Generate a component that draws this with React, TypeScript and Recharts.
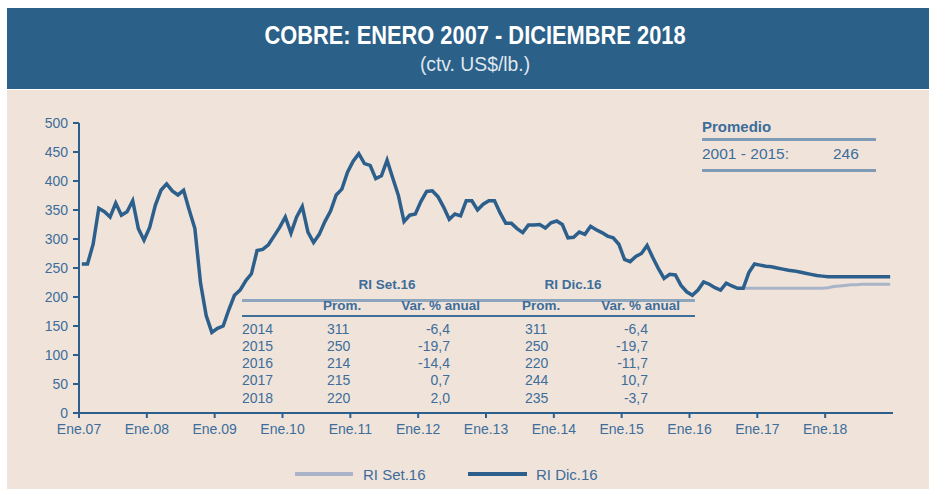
import { LineChart, Line, XAxis, YAxis } from 'recharts';

// precios mensuales ctv. US$/lb, ene.2007 - oct.2016
const historico = [
  257, 257, 291, 353, 347, 338, 362, 341, 347, 366, 318, 298,
  320, 358, 384, 395, 383, 376, 384, 350, 318, 224, 168, 139,
  146, 150, 178, 203, 212, 228, 240, 280, 282, 290, 305, 320,
  338, 310, 338, 356, 312, 294, 308, 330, 348, 376, 386, 415,
  434, 447, 430, 427, 404, 409, 436, 405, 375, 330, 341, 343,
  365, 382, 383, 373, 355, 334, 343, 340, 366, 366, 350, 360,
  366, 366, 345, 327, 327, 318, 311, 324, 324, 325, 319, 328,
  331, 325, 302, 303, 312, 308, 322, 316, 311, 305, 302, 291,
  265, 261, 270, 275, 289, 268, 249, 232, 239, 238, 220, 209,
  203, 212, 226, 222, 216, 212, 224, 219, 215, 215,
];

// nov.2016 - dic.2018
const proyDic16 = [
  242, 257,
  255, 253, 252, 250, 248, 246, 245, 243, 241, 239, 237, 236,
  235, 235, 235, 235, 235, 235, 235, 235, 235, 235, 235, 235,
];
const proySet16 = [
  215, 215,
  215, 215, 215, 215, 215, 215, 215, 215, 215, 215, 215, 215,
  216, 218, 219, 220, 221, 221, 222, 222, 222, 222, 222, 222,
];

const etiquetasX = ['Ene.07', 'Ene.08', 'Ene.09', 'Ene.10', 'Ene.11', 'Ene.12', 'Ene.13', 'Ene.14', 'Ene.15', 'Ene.16', 'Ene.17', 'Ene.18'];
const ticksY = [0, 50, 100, 150, 200, 250, 300, 350, 400, 450, 500];

const anios = ['2014', '2015', '2016', '2017', '2018'];
const promSet = ['311', '250', '214', '215', '220'];
const varSet = ['-6,4', '-19,7', '-14,4', '0,7', '2,0'];
const promDic = ['311', '250', '220', '244', '235'];
const varDic = ['-6,4', '-19,7', '-11,7', '10,7', '-3,7'];

const n = historico.length;
const data = [...historico, ...proyDic16].map((v, i) => ({
  x: i + 0.5,
  dic: v,
  set: i === n - 1 ? historico[i] : i >= n ? proySet16[i - n] : null,
}));

const AZUL = '#2c5f8c';
const TEXTO = '#3d6d9b';
const GRIS = '#a9b4c8';
const fuente = "'Liberation Sans', Arial, sans-serif";

type TxtProps = { x: number; y: number; children: any; align?: 'left' | 'right' | 'center'; bold?: boolean; size?: number; color?: string; sx?: number };

function Txt({ x, y, children, align = 'left', bold = false, size = 14, color = TEXTO, sx = 1 }: TxtProps) {
  const tx = align === 'left' ? '0' : align === 'right' ? '-100%' : '-50%';
  const origin = align === 'left' ? 'left' : align === 'right' ? 'right' : 'center';
  return (
    <div style={{ position: 'absolute', left: x, top: y, transform: `translate(${tx}, -50%)`, whiteSpace: 'nowrap' }}>
      <div style={{ fontFamily: fuente, fontSize: size, fontWeight: bold ? 700 : 400, color, lineHeight: 1, transform: `scaleX(${sx})`, transformOrigin: origin }}>
        {children}
      </div>
    </div>
  );
}

function Raya({ x, y, w, h, color }: { x: number; y: number; w: number; h: number; color: string }) {
  return <div style={{ position: 'absolute', left: x, top: y - h / 2, width: w, height: h, background: color }} />;
}

const filas = [329, 346, 363, 380, 398];

export default function App() {
  return (
    <div style={{ position: 'absolute', left: 0, top: 0, width: 929, height: 489, overflow: 'hidden', background: '#fff' }}>
      <div style={{ position: 'absolute', left: 7, top: 8, width: 922, height: 81, background: '#2b6089' }} />
      <div style={{ position: 'absolute', left: 7, top: 90, width: 922, height: 399, background: '#f0e4da' }} />
      <Txt x={475} y={35} align="center" bold size={26} sx={0.84} color="#ffffff">COBRE: ENERO 2007 - DICIEMBRE 2018</Txt>
      <Txt x={475} y={63} align="center" size={21} sx={0.92} color="#dfe7ef">(ctv. US$/lb.)</Txt>

      <div style={{ position: 'absolute', left: 7, top: 90 }}>
        <LineChart width={922} height={399} data={data} margin={{ top: 33, right: 36, bottom: 46, left: 0 }}>
          <XAxis
            dataKey="x"
            type="number"
            domain={[0, 144]}
            ticks={etiquetasX.map((_, i) => i * 12)}
            tickFormatter={(v: number) => etiquetasX[v / 12]}
            height={30}
            axisLine={{ stroke: AZUL, strokeWidth: 2 }}
            tickLine={{ stroke: AZUL, strokeWidth: 2 }}
            tickSize={5}
            tickMargin={6}
            tick={{ fill: TEXTO, fontSize: 14, fontFamily: fuente }}
          />
          <YAxis
            type="number"
            domain={[0, 500]}
            ticks={ticksY}
            width={72}
            interval={0}
            axisLine={{ stroke: AZUL, strokeWidth: 2 }}
            tickLine={{ stroke: AZUL, strokeWidth: 2 }}
            tickSize={6}
            tickMargin={5}
            tick={{ fill: TEXTO, fontSize: 14, fontFamily: fuente }}
          />
          <Line type="linear" dataKey="set" stroke={GRIS} strokeWidth={3} dot={false} isAnimationActive={false} connectNulls={false} />
          <Line type="linear" dataKey="dic" stroke={AZUL} strokeWidth={3.5} dot={false} isAnimationActive={false} />
        </LineChart>
      </div>

      {/* promedio */}
      <Txt x={702} y={126} bold size={15}>Promedio</Txt>
      <Raya x={702} y={139.5} w={174} h={3} color="#7f9bb5" />
      <Txt x={702} y={154} size={15.5}>2001 - 2015:</Txt>
      <Txt x={833} y={154} size={15.5}>246</Txt>
      <Raya x={702} y={170} w={174} h={3} color="#7f9bb5" />

      {/* cuadro */}
      <Txt x={387} y={285} align="center" bold size={13.5}>RI Set.16</Txt>
      <Txt x={573} y={285} align="center" bold size={13.5}>RI Dic.16</Txt>
      <Raya x={242} y={300} w={453} h={3} color="#8ea6bd" />
      <Txt x={323} y={306} bold size={13.5}>Prom.</Txt>
      <Txt x={480} y={306} align="right" bold size={13.5}>Var. % anual</Txt>
      <Txt x={522} y={306} bold size={13.5}>Prom.</Txt>
      <Txt x={680} y={306} align="right" bold size={13.5}>Var. % anual</Txt>
      <Raya x={242} y={315.5} w={453} h={2} color="#3f6f99" />
      {anios.map((a, i) => (
        <div key={a}>
          <Txt x={242} y={filas[i]}>{a}</Txt>
          <Txt x={327} y={filas[i]}>{promSet[i]}</Txt>
          <Txt x={450} y={filas[i]} align="right">{varSet[i]}</Txt>
          <Txt x={525} y={filas[i]}>{promDic[i]}</Txt>
          <Txt x={648} y={filas[i]} align="right">{varDic[i]}</Txt>
        </div>
      ))}

      {/* leyenda */}
      <Raya x={295} y={474} w={58} h={3.5} color={GRIS} />
      <Txt x={363} y={474} size={15}>RI Set.16</Txt>
      <Raya x={468} y={474} w={59} h={3.5} color={AZUL} />
      <Txt x={536} y={474} size={15}>RI Dic.16</Txt>
    </div>
  );
}
